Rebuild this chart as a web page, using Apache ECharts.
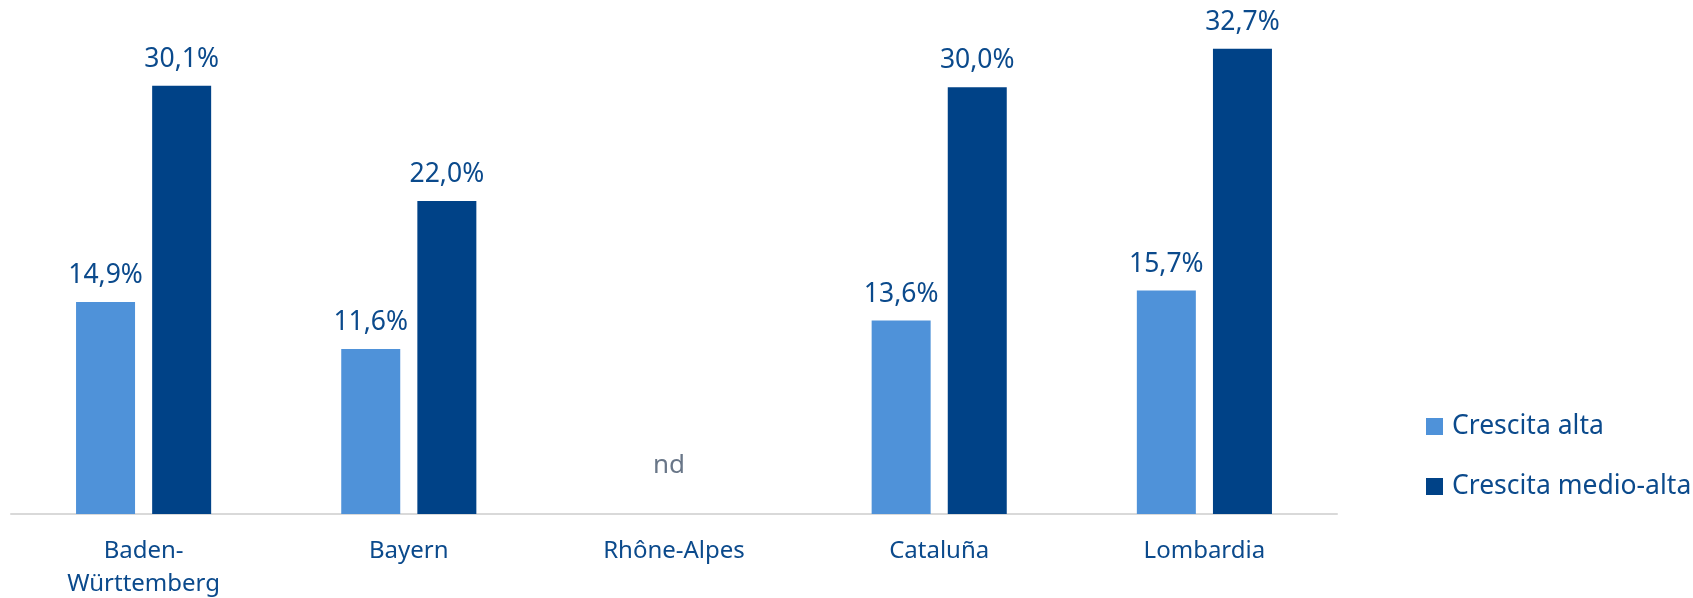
<!DOCTYPE html>
<html>
<head>
<meta charset="utf-8">
<script src="https://cdn.jsdelivr.net/npm/echarts@6/dist/echarts.min.js"></script>
<style>
html,body{margin:0;padding:0;background:#fff;}
#chart{width:1693px;height:598px;}
</style>
</head>
<body>
<div id="chart"></div>
<script>
const categories = ['Baden-\nWürttemberg', 'Bayern', 'Rhône-Alpes', 'Cataluña', 'Lombardia'];
const seriesNames = ['Crescita alta', 'Crescita medio-alta'];
const crescitaAlta = [14.9, 11.6, null, 13.6, 15.7];
const crescitaMedioAlta = [30.1, 22.0, null, 30.0, 32.7];
const notAvailable = ['Rhône-Alpes'];
const notAvailableLabel = 'nd';

const FONT = 'Noto Sans';
const TEXT_BLUE = '#0B4A8C';
const fmt = p => (p.value == null ? '' : p.value.toFixed(1).replace('.', ',') + '%');

const chart = echarts.init(document.getElementById('chart'));
chart.setOption({
  animation: false,
  backgroundColor: '#ffffff',
  textStyle: { fontFamily: FONT },
  grid: { left: 11, right: 356, top: 16, bottom: 84, containLabel: false, outerBoundsMode: 'none' },
  legend: {
    data: seriesNames,
    orient: 'vertical',
    left: 1426,
    top: 413,
    padding: 0,
    itemWidth: 17,
    itemHeight: 17,
    itemGap: 33,
    icon: 'rect',
    textStyle: { fontFamily: FONT, fontSize: 26.5, color: TEXT_BLUE, padding: [0, 0, 0, 4] }
  },
  xAxis: {
    type: 'category',
    data: categories,
    axisLine: { show: true, lineStyle: { color: '#D9D9D9', width: 2 } },
    axisTick: { show: false },
    axisLabel: { fontFamily: FONT, fontSize: 24, color: TEXT_BLUE, margin: 21, lineHeight: 33, interval: 0 }
  },
  yAxis: {
    type: 'value',
    min: 0,
    max: 35,
    show: false,
    splitLine: { show: false }
  },
  series: [
    {
      name: seriesNames[0],
      type: 'bar',
      data: crescitaAlta,
      barWidth: 59,
      barGap: '29%',
      itemStyle: { color: '#4F92D9' },
      label: { show: true, position: 'top', distance: 13, formatter: fmt, fontFamily: FONT, fontSize: 26.5, color: TEXT_BLUE }
    },
    {
      name: seriesNames[1],
      type: 'bar',
      data: crescitaMedioAlta,
      barWidth: 59,
      barGap: '29%',
      itemStyle: { color: '#004287' },
      label: { show: true, position: 'top', distance: 13, formatter: fmt, fontFamily: FONT, fontSize: 26.5, color: TEXT_BLUE }
    },
    {
      name: 'nd',
      type: 'scatter',
      data: notAvailable.map(c => [categories.indexOf(c), 0]),
      symbolSize: 1,
      itemStyle: { color: 'rgba(0,0,0,0)' },
      label: { show: true, position: 'top', distance: 35, offset: [-5, 0], formatter: () => notAvailableLabel, fontFamily: FONT, fontSize: 26, color: '#44546A' },
      silent: true
    }
  ]
});
</script>
</body>
</html>
